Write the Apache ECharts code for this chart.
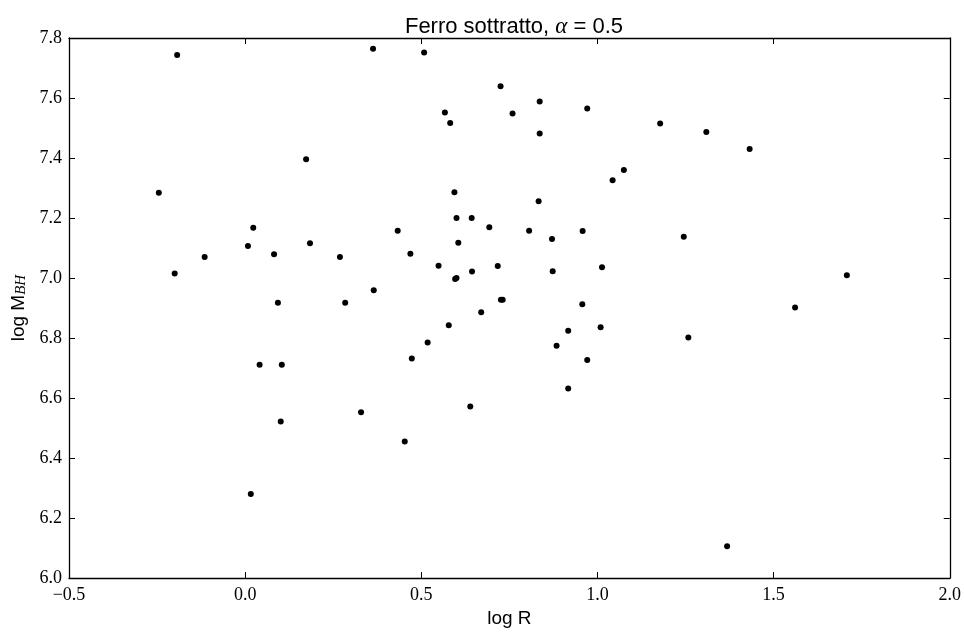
<!DOCTYPE html>
<html>
<head>
<meta charset="utf-8">
<script src="https://cdn.jsdelivr.net/npm/echarts@6/dist/echarts.min.js"></script>
<style>
  html, body { margin: 0; padding: 0; background: #fff; }
  #chart { width: 964px; height: 633px; }
</style>
</head>
<body>
<div id="chart"></div>
<script>
// log R values of each object
const logR = [-0.193, -0.245, 0.173, 0.023, 0.008, 0.184, -0.115, 0.082, -0.200, 0.093,
  0.041, 0.104, 0.101, 0.016, 0.363, 0.508, 0.725, 0.836, 0.567, 0.759,
  0.971, 0.582, 0.836, 1.075, 1.043, 0.594, 0.833, 0.600, 0.643, 0.693,
  0.433, 0.806, 0.958, 0.605, 0.871, 0.269, 0.469, 0.549, 0.717, 1.013,
  0.644, 0.873, 0.596, 0.600, 0.365, 0.284, 0.726, 0.731, 0.957, 0.670,
  1.178, 1.309, 1.432, 1.245, 1.708, 1.561, 0.578, 0.518, 0.473, 0.917,
  1.009, 0.884, 0.971, 0.917, 0.639, 0.329, 0.453, 1.258, 1.368];

// log M_BH values, same order
const logM = [7.743, 7.284, 7.396, 7.168, 7.107, 7.116, 7.070, 7.079, 7.015, 6.918,
  6.711, 6.711, 6.522, 6.280, 7.764, 7.752, 7.639, 7.588, 7.552, 7.548,
  7.565, 7.517, 7.482, 7.360, 7.326, 7.286, 7.256, 7.200, 7.200, 7.169,
  7.158, 7.158, 7.157, 7.118, 7.130, 7.070, 7.081, 7.041, 7.040, 7.036,
  7.022, 7.023, 6.997, 7.000, 6.959, 6.918, 6.928, 6.928, 6.913, 6.886,
  7.515, 7.487, 7.430, 7.138, 7.009, 6.902, 6.843, 6.785, 6.732, 6.824,
  6.836, 6.774, 6.727, 6.632, 6.572, 6.553, 6.455, 6.802, 6.106];

// axis ranges and tick steps
const xRange = [-0.5, 2.0];
const xStep = 0.5;
const yRange = [6.0, 7.8];
const yStep = 0.2;

const points = logR.map((r, i) => [r, logM[i]]);

const serif = '"Liberation Serif", "DejaVu Serif", serif';
const sans = '"Liberation Sans", Arial, sans-serif';

const fmtX = v => (v < 0 ? '\u2212' : '') + Math.abs(v).toFixed(1);
const fmtY = v => v.toFixed(1);

function axisBase(extra) {
  return Object.assign({
    type: 'value',
    splitLine: { show: false },
    axisLine: { show: true, onZero: false, lineStyle: { color: '#000', width: 1.3 } },
    axisTick: { show: true, inside: true, length: 6, lineStyle: { color: '#000', width: 1 } }
  }, extra);
}

const chart = echarts.init(document.getElementById('chart'), null, { renderer: 'canvas' });
chart.setOption({
  backgroundColor: '#fff',
  animation: false,
  title: {
    text: '{a|Ferro sottratto, }{b|\u03b1}{a| = 0.5}',
    left: 509,
    textAlign: 'center',
    top: 10,
    textStyle: {
      fontWeight: 'normal',
      rich: {
        a: { fontFamily: sans, fontSize: 22, fontWeight: 'normal', color: '#000' },
        b: { fontFamily: serif, fontStyle: 'italic', fontWeight: 'normal', fontSize: 23, color: '#000' }
      }
    }
  },
  grid: { left: 69, top: 38, width: 881, height: 544, containLabel: false },
  xAxis: [
    axisBase({
      position: 'bottom',
      min: xRange[0], max: xRange[1], interval: xStep,
      name: 'log R',
      nameLocation: 'middle',
      nameGap: 30,
      nameTextStyle: { fontFamily: sans, fontSize: 19, color: '#000' },
      axisLabel: { margin: 8, formatter: fmtX, fontFamily: serif, fontSize: 18, color: '#000' }
    }),
    axisBase({
      position: 'top',
      min: xRange[0], max: xRange[1], interval: xStep,
      axisLabel: { show: false }
    })
  ],
  yAxis: [
    axisBase({
      position: 'left',
      min: yRange[0], max: yRange[1], interval: yStep,
      name: '{a|log M}{b|BH}',
      nameLocation: 'middle',
      nameGap: 40,
      nameTextStyle: {
        rich: {
          a: { fontFamily: sans, fontSize: 19, color: '#000', verticalAlign: 'bottom', lineHeight: 22 },
          b: { fontFamily: serif, fontStyle: 'italic', fontSize: 15, color: '#000', verticalAlign: 'bottom', lineHeight: 15 }
        }
      },
      axisLabel: { margin: 7, formatter: fmtY, fontFamily: serif, fontSize: 18, color: '#000' }
    }),
    axisBase({
      position: 'right',
      min: yRange[0], max: yRange[1], interval: yStep,
      axisLabel: { show: false }
    })
  ],
  series: [{
    type: 'scatter',
    xAxisIndex: 0,
    yAxisIndex: 0,
    data: points,
    symbol: 'circle',
    symbolSize: 6,
    itemStyle: { color: '#000', opacity: 1 },
    silent: true
  }]
});
</script>
</body>
</html>
